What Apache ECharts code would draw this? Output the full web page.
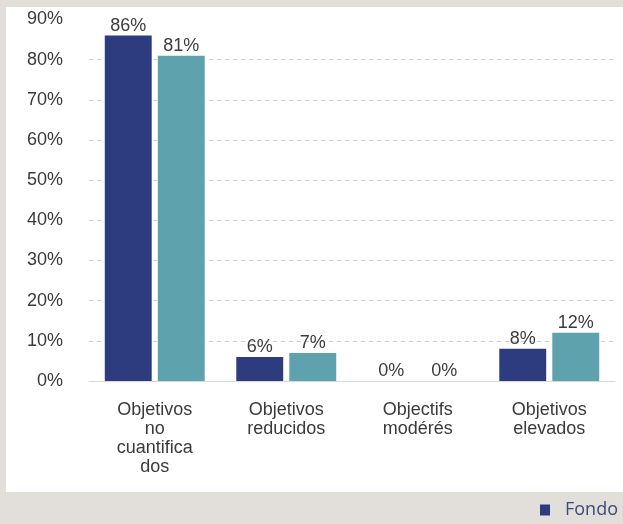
<!DOCTYPE html>
<html><head><meta charset="utf-8">
<script src="https://cdn.jsdelivr.net/npm/echarts@6/dist/echarts.min.js"></script>
<style>html,body{margin:0;padding:0;background:#e2dfdb;}#c{width:623px;height:524px;}</style>
</head><body><div id="c"></div>
<script>
const categories = ["Objetivos\nno\ncuantifica\ndos", "Objetivos\nreducidos", "Objectifs\nmodérés", "Objetivos\nelevados"];
const fondoValues = [86, 6, 0, 8];
const otherValues = [81, 7, 0, 12];
const seriesNames = ["Fondo", "Índice"];
const yTicks = [0, 10, 20, 30, 40, 50, 60, 70, 80, 90];

const FONT = "'Liberation Sans', Arial, Helvetica, sans-serif";
const chart = echarts.init(document.getElementById('c'));
const labelStyle = {show: true, position: 'top', distance: 1, formatter: p => p.value + '%', fontFamily: FONT, fontSize: 18, color: '#3c3c3c'};
chart.setOption({
  backgroundColor: '#e2dfdb',
  animation: false,
  graphic: [{type: 'rect', z: -10, shape: {x: 6, y: 7, width: 617, height: 485}, style: {fill: '#ffffff'}}],
  grid: {left: 89, right: 8, top: 19.5, bottom: 143, containLabel: false},
  legend: {data: ['Fondo'], right: 0, bottom: 0, icon: 'rect', itemWidth: 10, itemHeight: 11,
    textStyle: {fontFamily: "'Open Sans', sans-serif", fontSize: 18, color: '#3b4a78', padding: [0, 0, 0, 10]}},
  xAxis: {type: 'category', data: categories,
    axisLine: {show: true, lineStyle: {color: '#d9d9d9', width: 1}}, axisTick: {show: false},
    axisLabel: {interval: 0, margin: 20, fontFamily: FONT, fontSize: 18, color: '#3a3a3a', lineHeight: 19, align: 'center'}},
  yAxis: {type: 'value', min: yTicks[0], max: yTicks[yTicks.length - 1], interval: 10,
    axisLine: {show: false}, axisTick: {show: false},
    axisLabel: {formatter: v => v + '%', margin: 26, fontFamily: FONT, fontSize: 18, color: '#3a3a3a'},
    splitLine: {show: true, showMinLine: false, showMaxLine: false, lineStyle: {color: '#cfcfcf', type: [4, 4], width: 1}}},
  series: [
    {name: seriesNames[0], type: 'bar', data: fondoValues, itemStyle: {color: '#2d3c7f'}, barGap: '13%', barCategoryGap: '24%', label: labelStyle},
    {name: seriesNames[1], type: 'bar', data: otherValues, itemStyle: {color: '#5ea2ad'}, label: labelStyle}
  ]
});
</script></body></html>
